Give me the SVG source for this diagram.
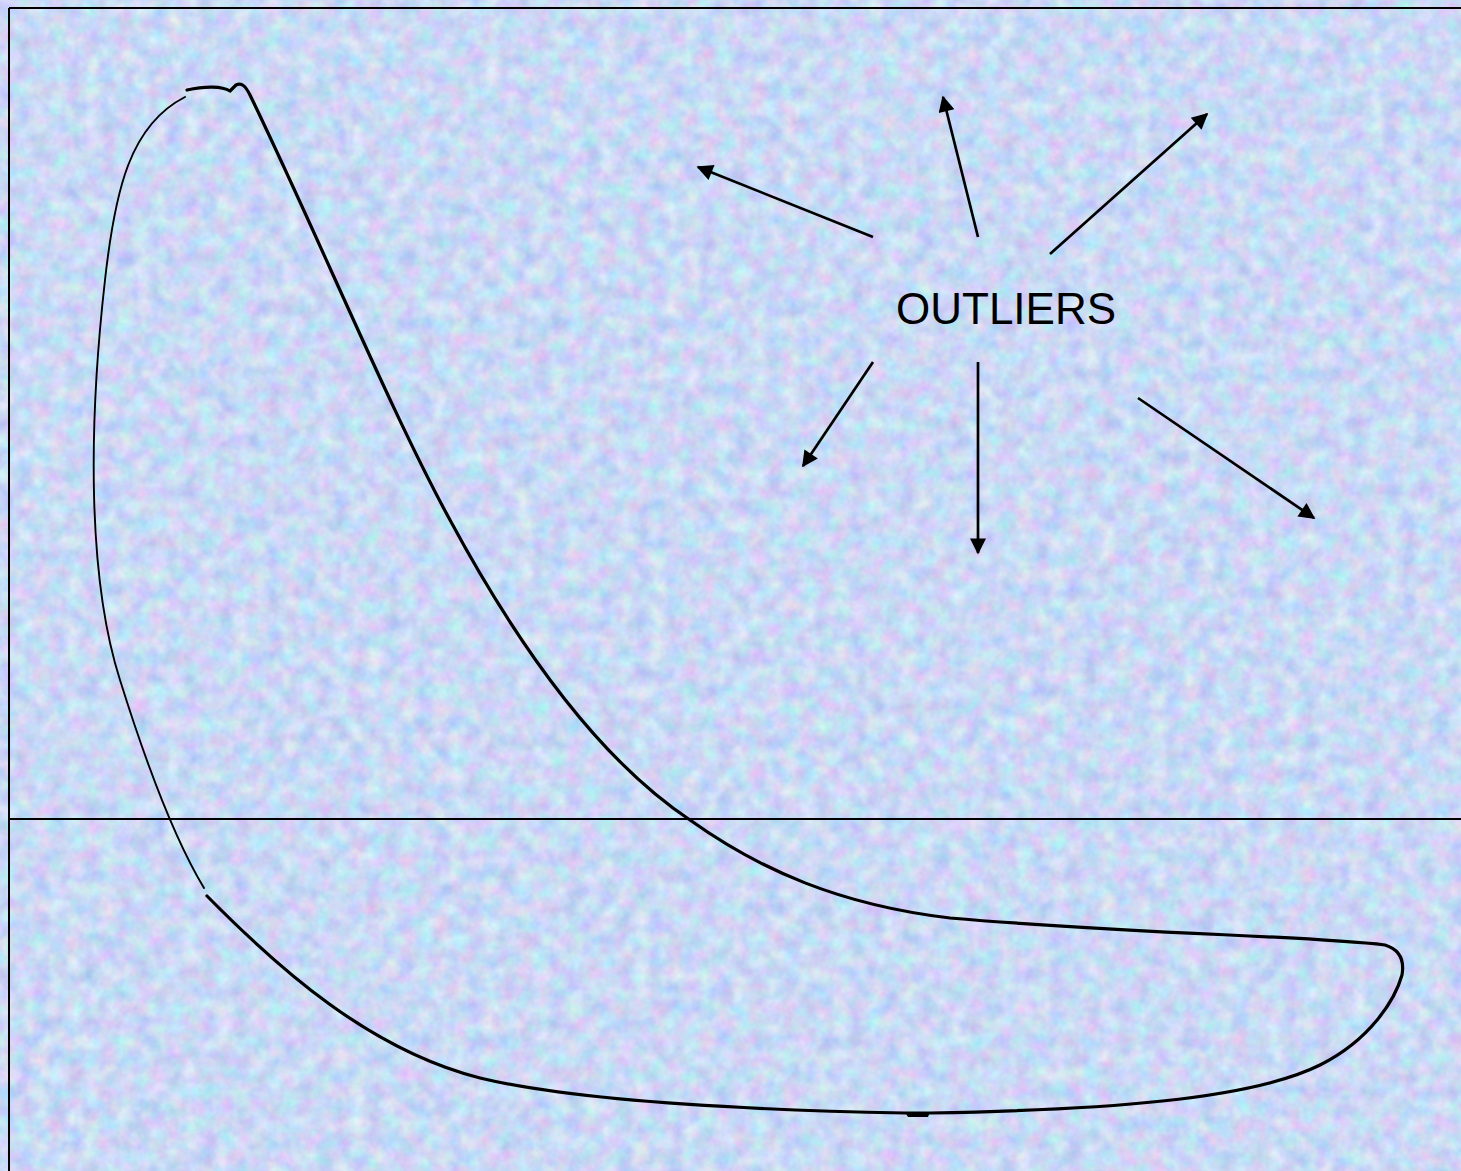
<svg xmlns="http://www.w3.org/2000/svg" width="1461" height="1171" viewBox="0 0 1461 1171">
<style>
.frame{stroke:#000;stroke-width:2;fill:none}
.curve{stroke:#000;fill:none;stroke-linecap:round;stroke-linejoin:round}
.thick{stroke-width:3.2}
.thin{stroke-width:1.9}
.arrow{stroke:#000;stroke-width:2.7;fill:none;marker-end:url(#ah)}
.lbl{font-family:"Liberation Sans",Arial,sans-serif;font-size:44px;fill:#000}
</style>
<defs>
<marker id="ah" viewBox="0 0 10 10" refX="9" refY="5" markerWidth="7" markerHeight="6" orient="auto" markerUnits="strokeWidth">
<path d="M0,0 L10,5 L0,10 z" fill="#000"/>
</marker>
<filter id="noise" x="0" y="0" width="1461" height="1171" filterUnits="userSpaceOnUse" color-interpolation-filters="sRGB">
<feTurbulence type="fractalNoise" baseFrequency="0.06" numOctaves="3" seed="7" result="n"/>
<feColorMatrix in="n" type="matrix" values="0.34 0 0 0 0.62  0 0.28 0 0 0.71  0 0 0.12 0 0.9  0 0 0 0 1"/>
</filter>
</defs>
<g id="background">
<rect width="1461" height="1171" fill="#c8d8f4"/>
<rect width="1461" height="1171" filter="url(#noise)"/>
</g>
<g id="frame">
<line class="frame" x1="9" y1="8" x2="1461" y2="8"/>
<line class="frame" x1="9" y1="8" x2="9" y2="1171"/>
<line class="frame" x1="9" y1="819" x2="1461" y2="819"/>
</g>
<g id="shape">
<path class="curve thin" d="M185,97 C130,125 115,190 105,280 C88,430 88,580 120,680 C145,760 175,840 204,888"/>
<path class="curve thick" d="M187,90 C205,86 222,86 230,91 L236,85 C242,82 246,87 250,95 C320,240 390,410 450,520 C520,650 600,760 690,820 C760,870 840,905 950,918 C1150,935 1300,935 1385,945 C1398,949 1405,958 1402,975 C1395,1000 1370,1040 1320,1065 C1250,1100 1100,1110 930,1113 L905,1113 C750,1110 580,1102 480,1078 C370,1050 280,970 207,896"/>
<path d="M905,1112 L930,1112 L928,1117 L908,1117 z" fill="#000"/>
</g>
<g id="outliers">
<text class="lbl" x="896" y="324">OUTLIERS</text>
</g>
<g id="connectors">
<line class="arrow" x1="873" y1="237" x2="698" y2="167"/>
<line class="arrow" x1="978" y1="237" x2="943" y2="97"/>
<line class="arrow" x1="1050" y1="254" x2="1207" y2="114"/>
<line class="arrow" x1="873" y1="362" x2="803" y2="466"/>
<line class="arrow" x1="978" y1="362" x2="978" y2="553"/>
<line class="arrow" x1="1138" y1="398" x2="1314" y2="518"/>
</g>
</svg>
